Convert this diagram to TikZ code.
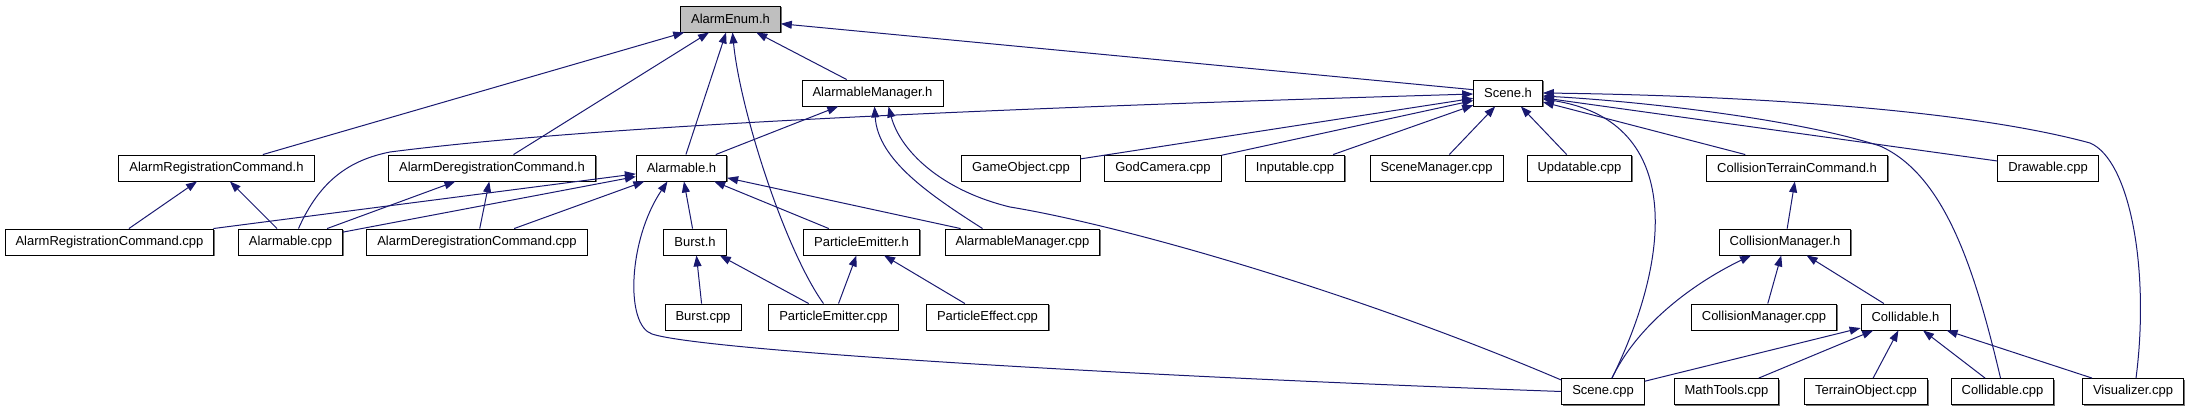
\documentclass[tikz,border=0pt]{standalone}
\usepackage{fontspec}
\setmainfont{Liberation Sans}
\usetikzlibrary{arrows.meta,shadows}

\definecolor{edgeblue}{RGB}{25,25,112}

\tikzstyle{filebox} = [draw=black, fill=white, line width=0.9pt, minimum height=26pt, inner xsep=10.5pt, inner ysep=0pt, font=\fontsize{13}{15}\selectfont, drop shadow={shadow xshift=1.2pt, shadow yshift=-1.2pt, fill=black!55, opacity=1}]
\tikzstyle{rootbox} = [filebox, fill=black!25]
\tikzstyle{inc} = [draw=edgeblue, line width=1pt, -{Triangle[length=11pt,width=8pt]}]

\begin{document}
\begin{tikzpicture}[x=1pt, y=-1pt]
\useasboundingbox (0,0) rectangle (2194,411);

\node[rootbox] (enum) at (730.5,19) {AlarmEnum.h};

\node[filebox] (mgrh) at (872.5,93) {AlarmableManager.h};
\node[filebox] (sceneh) at (1508,93) {Scene.h};

\node[filebox] (regh) at (216.5,168) {AlarmRegistrationCommand.h};
\node[filebox] (deregh) at (492,168) {AlarmDeregistrationCommand.h};
\node[filebox] (alarmh) at (681.5,168) {Alarmable.h};
\node[filebox] (gamecpp) at (1021,168) {GameObject.cpp};
\node[filebox] (godcpp) at (1163,168) {GodCamera.cpp};
\node[filebox] (inputcpp) at (1295,168) {Inputable.cpp};
\node[filebox] (scmgrcpp) at (1436.5,168) {SceneManager.cpp};
\node[filebox] (updcpp) at (1579.5,168) {Updatable.cpp};
\node[filebox] (terrainh) at (1797,168) {CollisionTerrainCommand.h};
\node[filebox] (drawcpp) at (2048,168) {Drawable.cpp};

\node[filebox] (regcpp) at (109.5,242) {AlarmRegistrationCommand.cpp};
\node[filebox] (alarmcpp) at (290.5,242) {Alarmable.cpp};
\node[filebox] (deregcpp) at (477,242) {AlarmDeregistrationCommand.cpp};
\node[filebox] (bursth) at (695,242) {Burst.h};
\node[filebox] (emith) at (861.5,242) {ParticleEmitter.h};
\node[filebox] (mgrcpp) at (1022.5,242) {AlarmableManager.cpp};
\node[filebox] (colmgrh) at (1785,242) {CollisionManager.h};

\node[filebox] (burstcpp) at (703,317) {Burst.cpp};
\node[filebox] (emitcpp) at (833.5,317) {ParticleEmitter.cpp};
\node[filebox] (effectcpp) at (987.5,317) {ParticleEffect.cpp};
\node[filebox] (colmgrcpp) at (1764,317) {CollisionManager.cpp};
\node[filebox] (collh) at (1905.5,317) {Collidable.h};

\node[filebox] (scenecpp) at (1603,391.5) {Scene.cpp};
\node[filebox] (mathcpp) at (1726.5,391.5) {MathTools.cpp};
\node[filebox] (terraincpp) at (1866,391.5) {TerrainObject.cpp};
\node[filebox] (collcpp) at (2002.5,391.5) {Collidable.cpp};
\node[filebox] (viscpp) at (2133,391.5) {Visualizer.cpp};

\foreach \a/\b in {regh/enum, deregh/enum, alarmh/enum, mgrh/enum, sceneh/enum,
    alarmh/mgrh, regcpp/regh, alarmcpp/regh, alarmcpp/deregh, deregcpp/deregh,
    regcpp/alarmh, alarmcpp/alarmh, deregcpp/alarmh, bursth/alarmh, emith/alarmh, mgrcpp/alarmh,
    gamecpp/sceneh, godcpp/sceneh, inputcpp/sceneh, scmgrcpp/sceneh, updcpp/sceneh,
    terrainh/sceneh, drawcpp/sceneh, colmgrh/terrainh, colmgrcpp/colmgrh, collh/colmgrh,
    burstcpp/bursth, emitcpp/bursth, emitcpp/emith, effectcpp/emith,
    scenecpp/collh, mathcpp/collh, terraincpp/collh, collcpp/collh, viscpp/collh}
  \draw[inc] (\a) -- (\b);

\draw[inc] ([xshift=-10pt]emitcpp.north) .. controls (785,250) and (740,110) .. ([xshift=2pt]enum.south);
\draw[inc] (scenecpp.west) .. controls (1100,375) and (700,350) .. (652,334)
    .. controls (625,325) and (628,240) .. ([xshift=-14pt]alarmh.south);
\draw[inc] ([xshift=-40pt]mgrcpp.north) .. controls (930,195) and (878,160) .. ([xshift=2pt]mgrh.south);
\draw[inc] ([yshift=-2pt]scenecpp.north west) .. controls (1350,290) and (1120,225) .. (1010,207)
    .. controls (940,190) and (900,150) .. ([xshift=16pt]mgrh.south);
\draw[inc] ([xshift=8pt]alarmcpp.north) .. controls (320,180) and (350,160) .. (390,152)
    .. controls (600,125) and (1000,108) .. ([yshift=-1pt]sceneh.west);
\draw[inc] ([xshift=9pt]scenecpp.north) .. controls (1675,250) and (1680,120) .. ([yshift=-6pt]sceneh.east);
\draw[inc] ([xshift=-2pt]collcpp.north) .. controls (1975,270) and (1945,175) .. (1880,146)
    .. controls (1800,120) and (1650,102) .. ([yshift=-3pt]sceneh.east);
\draw[inc] ([xshift=3pt]viscpp.north) .. controls (2150,270) and (2130,160) .. (2090,143)
    .. controls (1950,105) and (1700,95) .. (sceneh.east);
\draw[inc] ([xshift=9pt]scenecpp.north) .. controls (1640,320) and (1700,280) .. ([xshift=-34pt]colmgrh.south);
\end{tikzpicture}
\end{document}
